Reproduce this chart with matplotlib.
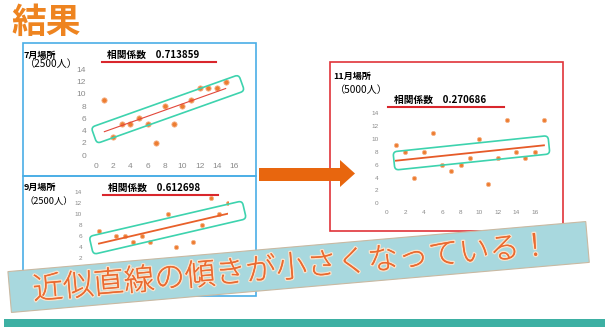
import numpy as np
import matplotlib
matplotlib.use('Agg')
import matplotlib.pyplot as plt
import matplotlib.patheffects as pe
from matplotlib.patches import FancyBboxPatch, Rectangle, Polygon
from matplotlib.lines import Line2D
from matplotlib.transforms import Affine2D

plt.rcParams['font.family'] = ['Noto Sans CJK JP', 'DejaVu Sans']

W, H = 613, 327

# 場所ごとの散布データ
jul_x = [1, 2, 3, 4, 5, 6, 7, 8, 9, 10, 11, 12, 13, 14, 15]
jul_y = [9, 3, 5, 5, 6, 5, 2, 8, 5, 8, 9, 11, 11, 11, 12]
sep_x = [1, 3, 4, 5, 6, 7, 9, 10, 12, 13, 14, 15, 16]
sep_y = [7, 6, 6, 5, 6, 5, 10, 4, 5, 8, 13, 10, 12]
nov_x = [1, 2, 3, 4, 5, 6, 7, 8, 9, 10, 11, 12, 13, 14, 15, 16, 17]
nov_y = [9, 8, 4, 8, 11, 6, 5, 6, 7, 10, 3, 7, 13, 8, 7, 8, 13]

basho = ['7月場所', '9月場所', '11月場所']
capacity = ['（2500人）', '（2500人）', '（5000人）']
corr = [0.713859, 0.612698, 0.270686]
x_ticks = [0, 2, 4, 6, 8, 10, 12, 14, 16]
y_ticks = [0, 2, 4, 6, 8, 10, 12, 14]

title = '結果'
banner = '近似直線の傾きが小さくなっている！'

fig = plt.figure(figsize=(W / 100, H / 100), dpi=100)
fig.patch.set_facecolor('white')

# top-down pixel coordinates -> figure
px = Affine2D().scale(1 / W, -1 / H).translate(0, 1) + fig.transFigure

ORANGE = '#ED7D31'
TEAL = '#3DD3AE'
GRAY = '#8a8a8a'


def to_px(ax, xs, ys):
    d = ax.transData.transform(np.column_stack([xs, ys]))
    f = fig.transFigure.inverted().transform(d)
    return np.column_stack([f[:, 0] * W, (1 - f[:, 1]) * H])


def box(x0, y0, x1, y1, color, lw=1.2, **kw):
    r = Rectangle((x0, y0), x1 - x0, y1 - y0, fill=False, ec=color, lw=lw,
                  transform=px, **kw)
    fig.add_artist(r)


def scatter_panel(rect, xs, ys, xlim, tick_size, pad_y, pad_x, ms,
                  trend_lw, trend_color, ext, hw):
    l, t, r, b = rect
    ax = fig.add_axes([l / W, 1 - b / H, (r - l) / W, (b - t) / H])
    ax.set_facecolor('none')
    ax.set_xlim(*xlim)
    ax.set_ylim(0, 14)
    for s in ax.spines.values():
        s.set_visible(False)
    ax.set_xticks(x_ticks)
    ax.set_yticks(y_ticks)
    ax.tick_params(length=0, labelsize=tick_size, labelcolor=GRAY)
    ax.tick_params(axis='y', pad=pad_y)
    ax.tick_params(axis='x', pad=pad_x)
    for lab in ax.get_xticklabels() + ax.get_yticklabels():
        lab.set_family('Liberation Sans')
    ax.axhline(0, color='#e4e4e4', lw=0.6)

    ax.plot(xs, ys, 'o', ms=ms, color=ORANGE, mec='#F6B389', mew=0.6)

    k, c = np.polyfit(xs, ys, 1)
    lx = np.array([min(xs), max(xs)])
    ax.plot(lx, k * lx + c, color=trend_color, lw=trend_lw)

    # 近似直線を囲む枠
    p = to_px(ax, lx, k * lx + c)
    u = (p[1] - p[0]) / np.hypot(*(p[1] - p[0]))
    s0 = p[0] - ext[0] * u
    s1 = p[1] + ext[1] * u
    L = np.hypot(*(s1 - s0))
    cx, cy = (s0 + s1) / 2
    ang = np.degrees(np.arctan2(u[1], u[0]))
    band = FancyBboxPatch((cx - L / 2, cy - hw), L, 2 * hw,
                          boxstyle='round,pad=0,rounding_size=4',
                          fill=False, ec=TEAL, lw=1.2,
                          transform=Affine2D().rotate_deg_around(cx, cy, ang) + px)
    fig.add_artist(band)
    return ax


def header(i, x_name, y_name, dy_cap, cap_size, x_corr, y_corr, ul):
    fig.text(x_name, y_name, basho[i], transform=px, fontsize=6.5,
             fontweight='bold', va='center', ha='left')
    fig.text(x_name + 1.5, y_name + dy_cap, capacity[i], transform=px,
             fontsize=cap_size, va='center', ha='left')
    fig.text(x_corr, y_corr, '相関係数　%.6f' % corr[i], transform=px,
             fontsize=7, fontweight='bold', va='center', ha='left')
    fig.add_artist(Line2D([ul[0], ul[1]], [ul[2], ul[2]], color='#D9262C',
                          lw=1.5, transform=px))


# タイトル
fig.text(46.5, 22, title, transform=px, fontsize=25, fontweight='bold',
         color='#EE8420', ha='center', va='center')

# 各場所の枠
box(22.7, 43.3, 255.5, 176, '#4AAEE6')
box(22.7, 176, 255.5, 295.5, '#4AAEE6')
box(330, 62.3, 562.7, 231, '#E0343A')

scatter_panel((95.7, 69.3, 234.3, 155), jul_x, jul_y, (0, 16), 6, 7, 5.5, 3.8,
              0.8, '#E2473A', (11, 17), 8.6)
scatter_panel((90.4, 192, 227.7, 269), sep_x, sep_y, (0, 16), 4.6, 6, 4, 3.0,
              1.3, '#E8602A', (8, 17), 9.2)
scatter_panel((386.7, 113.3, 553.2, 203.3), nov_x, nov_y, (0, 18), 4.6, 6, 4.8,
              3.0, 1.3, '#E65A28', (2, 5), 9.2)

header(0, 23.5, 55, 9, 7.3, 107, 55, (102, 216, 61.7))
header(1, 23.5, 187, 15, 6.7, 108, 188, (103, 218, 195))
header(2, 333, 76, 14, 7.3, 394, 100, (388, 504, 107.3))

# 矢印
arrow = Polygon([(259, 168), (340, 168), (340, 160), (355, 173.5),
                 (340, 187), (340, 181), (259, 181)], closed=True,
                fc='#E8660E', ec='none', transform=px, zorder=5)
fig.add_artist(arrow)

# まとめの帯
bcx, bcy, ang = 298.6, 267, -4.95
strip = Rectangle((bcx - 290, bcy - 20.5), 580, 41, fc='#A8D8DE', ec='#C9B9A2',
                  lw=0.8, transform=Affine2D().rotate_deg_around(bcx, bcy, ang) + px,
                  zorder=10)
fig.add_artist(strip)
fig.text(291, 268, banner, transform=px, fontsize=22, color='#EA6A30',
         fontweight='light', rotation=-ang, rotation_mode='anchor',
         ha='center', va='center', zorder=11,
         path_effects=[pe.withStroke(linewidth=2.0, foreground='#F8E2CC'),
                       pe.Normal()])

# 下部のライン
fig.add_artist(Rectangle((4, 319), 601, 8, fc='#3DB0A3', ec='none',
                         transform=px, zorder=10))

fig.savefig('out.png', dpi=100, facecolor='white')
